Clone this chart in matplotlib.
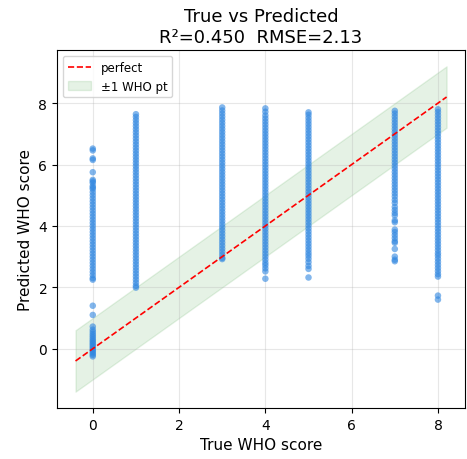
import matplotlib
matplotlib.use("Agg")
import matplotlib.pyplot as plt
import numpy as np

# True WHO scores and the model's predictions for each class
true_scores = [0, 1, 3, 4, 5, 7, 8]

pred_0 = [6.52, 6.46, 6.2, 6.15, 5.75, 5.5, 5.45, 5.4, 5.3, 5.25, 5.2,
          5.1, 5.0, 4.9, 4.8, 4.7, 4.6, 4.5, 4.4, 4.3, 4.2, 4.1, 4.0,
          3.9, 3.8, 3.7, 3.6, 3.5, 3.4, 3.3, 3.2, 3.1, 3.0, 2.9, 2.8,
          2.7, 2.6, 2.5, 2.4, 2.3, 2.25,
          1.4, 1.1, 0.72, 0.62, 0.55, 0.48, 0.42, 0.36, 0.3, 0.25, 0.2,
          0.15, 0.1, 0.05, 0.0, -0.05, -0.1, -0.15, -0.2, -0.25]
pred_1 = [7.64, 7.55, 7.45, 7.35, 7.25, 7.15, 7.05, 6.95, 6.85, 6.75,
          6.65, 6.55, 6.45, 6.35, 6.25, 6.15, 6.05, 5.95, 5.85, 5.75,
          5.65, 5.55, 5.45, 5.35, 5.25, 5.15, 5.05, 4.95, 4.85, 4.75,
          4.65, 4.55, 4.45, 4.35, 4.25, 4.15, 4.05, 3.95, 3.85, 3.75,
          3.65, 3.55, 3.45, 3.35, 3.25, 3.15, 3.05, 2.95, 2.85, 2.75,
          2.65, 2.55, 2.45, 2.35, 2.25, 2.15, 2.05, 1.99]
pred_3 = [7.86, 7.76, 7.66, 7.56, 7.46, 7.36, 7.26, 7.16, 7.06, 6.96,
          6.86, 6.76, 6.66, 6.56, 6.46, 6.36, 6.26, 6.16, 6.06, 5.96,
          5.86, 5.76, 5.66, 5.56, 5.46, 5.36, 5.26, 5.16, 5.06, 4.96,
          4.86, 4.76, 4.66, 4.56, 4.46, 4.36, 4.26, 4.16, 4.06, 3.96,
          3.86, 3.76, 3.66, 3.56, 3.46, 3.36, 3.26, 3.16, 3.06, 2.96, 2.92]
pred_4 = [7.83, 7.72, 7.6, 7.5, 7.4, 7.3, 7.2, 7.1, 7.0, 6.9, 6.8, 6.7,
          6.6, 6.5, 6.4, 6.3, 6.2, 6.1, 6.0, 5.9, 5.8, 5.7, 5.6, 5.5,
          5.4, 5.3, 5.2, 5.1, 5.0, 4.9, 4.8, 4.7, 4.6, 4.5, 4.4, 4.3,
          4.2, 4.1, 4.0, 3.9, 3.8, 3.7, 3.6, 3.5, 3.4, 3.3, 3.2, 3.1,
          3.0, 2.9, 2.8, 2.72, 2.62, 2.52, 2.28]
pred_5 = [7.7, 7.62, 7.52, 7.42, 7.32, 7.22, 7.12, 7.02, 6.92, 6.82,
          6.72, 6.62, 6.52, 6.42, 6.32, 6.22, 6.12, 6.02, 5.92, 5.82,
          5.72, 5.62, 5.52, 5.42, 5.32, 5.22, 5.12, 5.02, 4.92, 4.82,
          4.72, 4.62, 4.52, 4.42, 4.32, 4.22, 4.12, 4.02, 3.92, 3.82,
          3.72, 3.62, 3.52, 3.42, 3.32, 3.22, 3.12, 3.03,
          2.93, 2.82, 2.7, 2.6, 2.32]
pred_7 = [7.75, 7.66, 7.56, 7.46, 7.36, 7.26, 7.16, 7.06, 6.96, 6.86,
          6.76, 6.66, 6.56, 6.46, 6.36, 6.26, 6.16, 6.06, 5.96, 5.86,
          5.76, 5.66, 5.56, 5.46, 5.36, 5.26, 5.16, 5.06, 4.96,
          4.85, 4.75, 4.62, 4.52, 4.42, 4.34, 4.18, 4.12,
          3.88, 3.8, 3.7, 3.6, 3.5, 3.45, 3.25, 3.0, 2.9, 2.85]
pred_8 = [7.8, 7.71, 7.61, 7.51, 7.41, 7.31, 7.21, 7.11, 7.01, 6.91,
          6.81, 6.71, 6.61, 6.51, 6.41, 6.31, 6.21, 6.11, 6.01, 5.91,
          5.81, 5.71, 5.61, 5.51, 5.41, 5.31, 5.21, 5.11, 5.01, 4.91,
          4.81, 4.71, 4.61, 4.51, 4.41, 4.31, 4.21, 4.11, 4.01, 3.91,
          3.81, 3.71, 3.61, 3.51, 3.41, 3.31, 3.21, 3.11, 3.03,
          2.93, 2.83, 2.73, 2.63, 2.53, 2.43, 2.35, 1.73, 1.6]

predictions = [pred_0, pred_1, pred_3, pred_4, pred_5, pred_7, pred_8]

r2 = 0.450
rmse = 2.13
ref_range = [-0.4, 8.2]

fig = plt.figure(figsize=(4.67, 4.6), dpi=100)
ax = fig.add_axes([0.122, 0.111, 0.874, 0.778])

for score, preds in zip(true_scores, predictions):
    ax.scatter([score] * len(preds), preds, s=22, color="#2f86e0",
               alpha=0.6, edgecolors="none", zorder=2)

xr = np.array(ref_range)
ax.plot(xr, xr, "r--", lw=1.2, label="perfect", zorder=3)
ax.fill_between(xr, xr - 1, xr + 1, color="green", alpha=0.1,
                label="±1 WHO pt", zorder=1)

ax.set_xlabel("True WHO score", fontsize=11)
ax.set_ylabel("Predicted WHO score", fontsize=11)
ax.set_title(f"True vs Predicted\nR²={r2:.3f}  RMSE={rmse:.2f}", fontsize=13)
ax.tick_params(labelsize=10)
ax.set_xticks([0, 2, 4, 6, 8])
ax.set_yticks([0, 2, 4, 6, 8])
ax.grid(True, alpha=0.3)
ax.legend(loc="upper left", fontsize=8.5)

fig.savefig("out.png", dpi=100)
